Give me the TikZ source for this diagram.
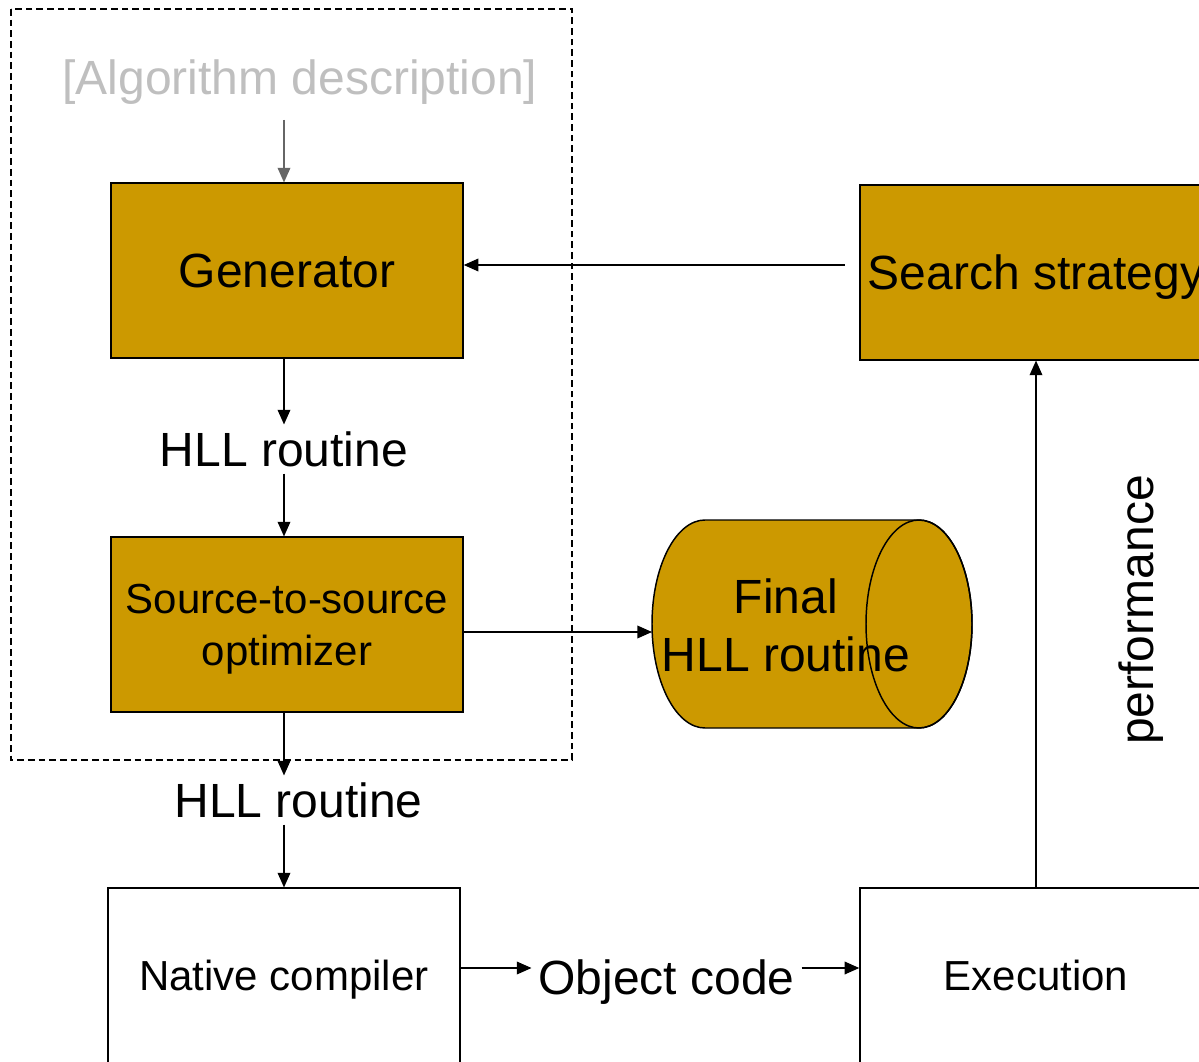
\documentclass[tikz,border=0pt]{standalone}
\usepackage{fontspec}
\setmainfont{Liberation Sans}
\usetikzlibrary{arrows.meta, positioning}
\usepackage{xcolor}
\definecolor{boxgold}{RGB}{204,153,0}
\definecolor{hintgray}{RGB}{191,191,191}
\definecolor{arrowgray}{RGB}{102,102,102}

\tikzset{
    bigtext/.style={font=\fontsize{36pt}{40pt}\selectfont},
    stagebox/.style={draw, line width=1.1pt, minimum width=264pt, minimum height=131pt, inner sep=0pt, align=center, text depth=0pt},
    goldbox/.style={stagebox, fill=boxgold},
    flow/.style={-{Triangle[length=11pt,width=9.5pt]}, line width=1.1pt},
    edgelabel/.style={bigtext, inner sep=5pt}
}

\begin{document}
\begin{tikzpicture}[x=0.75pt, y=-0.75pt]
        \clip (0,0) rectangle (1199,1062);
        \fill[white] (0,0) rectangle (1199,1062);
        \draw[line width=0.9pt, dash pattern=on 5pt off 3pt] (11,9) rectangle (572,760);

        \node[bigtext, text=hintgray, inner sep=11pt] (algo) at (300,82.5) {[Algorithm description]};
        \node[goldbox, bigtext] (gen) at (287,270.5) {Generator};
        \node[edgelabel] (hllA) at (284,449) {HLL routine};
        \node[goldbox, font=\fontsize{31.5pt}{39pt}\selectfont] (opt) at (287,624.5) {Source-to-source\\optimizer};
        \node[edgelabel] (hllB) at (298.5,800) {HLL routine};
        \node[stagebox, font=\fontsize{31.5pt}{39pt}\selectfont] (native) at (284,975.5) {Native compiler};
        \node[edgelabel, text depth=0pt] (objcode) at (666.5,977) {Object code};
        \node[stagebox, font=\fontsize{31.5pt}{39pt}\selectfont] (exec) at (1036,975.5) {Execution};
        \node[goldbox, bigtext] (search) at (1036,272.5) {Search strategy};
        \node[bigtext, rotate=90] (perf) at (1141,610) {performance};

        \filldraw[fill=boxgold, line width=1.1pt]
            (705,520) -- (919,520) arc[start angle=90, end angle=-90, x radius=39.75pt, y radius=78pt]
            -- (705,728) arc[start angle=270, end angle=90, x radius=39.75pt, y radius=78pt] -- cycle;
        \draw[line width=1.1pt] (919,624) ellipse[x radius=39.75pt, y radius=78pt];
        \coordinate (store) at (652,632);
        \coordinate (searchrow) at (0,265);
        \coordinate (objrow) at (0,968);
        \node[bigtext, align=center, font=\fontsize{36pt}{43.5pt}\selectfont] (final) at (786,625) {Final\\HLL routine};

        \draw[flow, draw=arrowgray, arrowgray] (algo.south -| hllA.north) -- (gen.north -| hllA.north);
        \draw[flow] (gen.south -| hllA.north) -- (hllA.north);
        \draw[flow] (hllA.south) -- (hllA.south |- opt.north);
        \draw[flow] (opt.south -| hllA.south) -- (hllB.north -| hllA.south);
        \draw[flow] (hllB.south -| hllA.south) -- (native.north -| hllA.south);
        \draw[flow] (opt.east |- store) -- (store);
        \draw[flow, shorten <=11pt] (search.west |- searchrow) -- (gen.east |- searchrow);
        \draw[flow] (native.east |- objrow) -- (objcode.west |- objrow);
        \draw[flow] (objcode.east |- objrow) -- (exec.west |- objrow);
        \draw[flow] (exec.north) -- (search.south);
    \end{tikzpicture}
\end{document}
